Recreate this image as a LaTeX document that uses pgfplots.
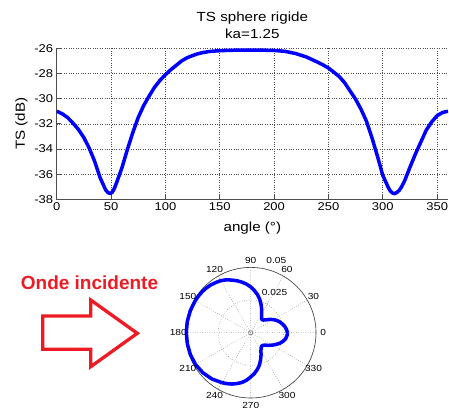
\documentclass[border=0pt]{standalone}
\usepackage{fontspec}
\setmainfont{Liberation Sans}[FakeStretch=1.15]
\newfontfamily\arialfont{Liberation Sans}
\usepackage{pgfplots}
\usepgfplotslibrary{polar}
\pgfplotsset{compat=1.18}
\definecolor{paintred}{RGB}{237,28,36}
\definecolor{mblue}{RGB}{0,0,255}

\begin{document}
\begin{tikzpicture}[x=1bp,y=1bp]
\path[use as bounding box] (0,0) rectangle (449,414);
\begin{axis}[
  at={(56.7bp,214.7bp)}, anchor=south west,
  scale only axis, width=391.3bp, height=151bp,
  xmin=0, xmax=360, ymin=-38, ymax=-26,
  xtick={0,50,...,350}, ytick={-38,-36,...,-26},
  axis x line*=bottom, axis y line*=left,
  axis line style={-, black!70, line width=0.8bp},
  tick align=inside, major tick length=4bp,
  tick style={black!70, line width=0.8bp},
  grid=major, major grid style={dotted, black!70, line width=0.6bp},
  ticklabel style={font=\fontsize{11.3bp}{13bp}\selectfont},
  /pgf/number format/assume math mode=true,
  xlabel={angle (°)}, ylabel={TS (dB)},
  label style={font=\fontsize{13.2bp}{15bp}\selectfont},
  xlabel style={yshift=-4bp},
  title={TS sphere rigide\\ka=1.25},
  title style={align=center, font=\fontsize{13.2bp}{17.3bp}\selectfont},
]
\addplot[mblue, line width=3.5bp, line join=round] coordinates {
(0,-31.0) (5,-31.2) (10,-31.5) (15,-31.95) (20,-32.45) (25,-33.1) (30,-33.95)
(35,-35.0) (40,-36.3) (45,-37.25) (47,-37.45) (49,-37.55) (51,-37.45) (53,-37.15)
(55,-36.7) (60,-35.5) (65,-34.05)
(70,-32.7) (75,-31.5) (80,-30.55) (85,-29.8) (90,-29.1) (95,-28.55) (100,-28.1)
(105,-27.7) (110,-27.35) (115,-27.0) (120,-26.75) (125,-26.58) (130,-26.43)
(135,-26.33) (140,-26.26) (145,-26.22) (150,-26.19) (160,-26.16) (170,-26.14)
(180,-26.14) (190,-26.15) (200,-26.17) (210,-26.24) (220,-26.42) (230,-26.7)
(240,-27.1) (245,-27.32) (250,-27.57) (255,-27.9) (260,-28.25) (265,-28.75)
(270,-29.4) (275,-30.05) (280,-30.85) (285,-31.8) (290,-33.1) (295,-34.55)
(300,-36.1) (305,-37.05) (307,-37.35) (309,-37.5) (311,-37.55) (313,-37.45)
(315,-37.3) (317,-37.05) (320,-36.55) (325,-35.45)
(330,-34.4) (335,-33.45) (340,-32.5) (345,-31.85) (350,-31.35) (355,-31.1)
(360,-31.0)
};
\end{axis}

\begin{polaraxis}[
  at={(250.7bp,81.3bp)}, anchor=center,
  scale only axis, width=130.6bp, height=130.6bp,
  xmin=0, xmax=360, ymin=0, ymax=0.05,
  xtick={0,30,...,330}, ytick={0.025,0.05},
  xticklabels={}, yticklabels={}, scaled y ticks=false,
  ticklabel style={opacity=0},
  major tick length=0pt,
  grid=major, major grid style={dotted, black!70, line width=0.5bp},
  axis line style={black!75, line width=0.6bp},
  y axis line style={draw=none},
  clip=false,
]
\addplot[mblue, line width=3.5bp, line join=round] coordinates {
(0,0.028184) (5,0.027542) (10,0.026607) (15,0.025264) (20,0.023851) (25,0.022131)
(30,0.020068) (35,0.017783) (40,0.015311) (45,0.013724) (47,0.013412) (49,0.013258)
(51,0.013412) (53,0.013883) (55,0.014621)
(60,0.016788) (65,0.019838) (70,0.023174) (75,0.026607) (80,0.029684) (85,0.032359)
(90,0.035075) (95,0.037371) (100,0.039355) (105,0.041210) (110,0.042905) (115,0.044668)
(120,0.045973) (125,0.046881) (130,0.047698) (135,0.048250) (140,0.048641) (145,0.048865)
(150,0.049034) (160,0.049204) (170,0.049317) (180,0.049317) (190,0.049260) (200,0.049147)
(210,0.048753) (220,0.047753) (230,0.046238) (240,0.044157) (245,0.043052) (250,0.041831)
(255,0.040272) (260,0.038682) (265,0.036517) (270,0.033884) (275,0.031441) (280,0.028675)
(285,0.025704) (290,0.022131) (295,0.018728) (300,0.015668) (305,0.014044) (307,0.013567)
(309,0.013335) (311,0.013258) (313,0.013412) (315,0.013646) (317,0.014044) (320,0.014876)
(325,0.016885) (330,0.019055) (335,0.021257) (340,0.023714)
(345,0.025556) (350,0.027071) (355,0.027861) (360,0.028184)
};
\pgfplotsinvokeforeach{0,30,...,330}{
  \node[font=\fontsize{8.8bp}{10bp}\selectfont, inner sep=0pt] at (axis cs:#1,0.0555) {#1};
}
\node[font=\fontsize{8.8bp}{10bp}\selectfont, inner sep=0pt] at (axis cs:59.2,0.0356) {0.025};
\node[font=\fontsize{8.8bp}{10bp}\selectfont, inner sep=0pt] at (axis cs:70.4,0.0585) {0.05};
\draw[black!60, line width=0.5bp] (axis cs:0,0) circle[radius=2bp];
\end{polaraxis}

\node[anchor=base, inner sep=0pt, text=paintred, font=\arialfont\bfseries\fontsize{19bp}{22bp}\selectfont] at (89.5,124.7) {Onde incidente};
\draw[paintred, line width=3.3bp, line join=miter] (42.7,98) -- (90.7,98) -- (90.7,114) -- (137.3,80.7) -- (90.7,47.3) -- (90.7,64.7) -- (42.7,64.7) -- cycle;
\end{tikzpicture}
\end{document}
